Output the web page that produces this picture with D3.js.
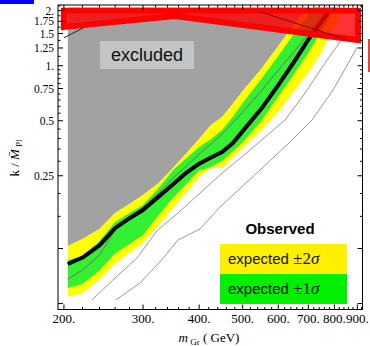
<!DOCTYPE html>
<html>
<head>
<meta charset="utf-8">
<script src="https://cdn.jsdelivr.net/npm/d3@7"></script>
<style>
  html, body { margin: 0; padding: 0; background: #fff; }
  svg { display: block; }
</style>
</head>
<body>
<div id="chart"></div>
<script>
// graviton mass grid (GeV) for the expected bands
const massGrid = [204, 220, 240, 260, 280, 300, 325, 350, 375, 400, 425, 450, 475, 500, 550, 600, 650, 700, 750, 800, 850, 900];
// expected limit bands on k/Mpl (values above the frame are hidden by the clip)
const exp2Up   = [0.1032, 0.1127, 0.1279, 0.1564, 0.1752, 0.1962, 0.2283, 0.2757, 0.3330, 0.3973, 0.4739, 0.5241, 0.6173, 0.7272, 0.9593, 1.2816, 1.6696, 2.121, 2.7, 3.0, 3.0, 3.0];
const exp1Up   = [0.0865, 0.0910, 0.1099, 0.1397, 0.1564, 0.1730, 0.2143, 0.2689, 0.3127, 0.3592, 0.3973, 0.4450, 0.5241, 0.6251, 0.8458, 1.1300, 1.4906, 1.8937, 2.4056, 3.0, 3.0, 3.0];
const exp1Down = [0.0608, 0.0640, 0.0755, 0.0939, 0.1060, 0.1186, 0.1520, 0.1894, 0.2260, 0.2662, 0.2792, 0.3011, 0.3398, 0.3806, 0.4983, 0.6759, 0.8940, 1.1764, 1.5579, 2.0295, 2.5945, 3.0];
const exp2Down = [0.0543, 0.0571, 0.0676, 0.0829, 0.0947, 0.1072, 0.1345, 0.1660, 0.2036, 0.2462, 0.2757, 0.2757, 0.3135, 0.3538, 0.4433, 0.5589, 0.7226, 0.9168, 1.1868, 1.6487, 2.1478, 2.7632];
const expMedian = [0.0681, 0.0763, 0.0922, 0.1263, 0.1488, 0.1687, 0.2012, 0.2431, 0.2828, 0.3289, 0.3730, 0.4231, 0.4859, 0.5582, 0.7272, 0.9473, 1.1883, 1.4906, 1.8467, 2.2875];

// observed limit
const obsMass  = [204, 220, 240, 260, 280, 300, 325, 350, 375, 400, 425, 450, 475, 500, 550, 600, 650, 700, 750, 780];
const obsLimit = [0.0823, 0.0893, 0.1040, 0.1293, 0.1465, 0.1625, 0.1923, 0.2245, 0.2602, 0.2911, 0.3147, 0.3373, 0.3763, 0.4388, 0.5811, 0.7832, 1.0464, 1.3892, 1.7515, 1.9965];

// two thin grey reference curves
const curveAMass = [230.9, 257.1, 290.8, 323.3, 358.8, 445.1, 519.1, 621.1, 688.3, 770.5, 845.1];
const curveAK    = [0.0523, 0.0673, 0.0887, 0.1263, 0.1564, 0.2525, 0.3459, 0.5046, 0.7091, 1.0744, 1.472];
const curveBMass = [261.1, 295.3, 327.2, 358.8, 401.7, 445.1, 546.4, 637.3, 713.4, 794.6, 866.9, 898.5];
const curveBK    = [0.0523, 0.0648, 0.0844, 0.1113, 0.1279, 0.1687, 0.2689, 0.3825, 0.5046, 0.7364, 1.0744, 1.2655];

// red excluded band at the top
const redMass   = [200, 353, 903];
const redTop    = [2.004, 2.004, 2.004];
const redBottom = [1.628, 1.870, 1.382];
const redDiagMass = [541, 858];
const redDiagK    = [1.99, 1.38];
const edgeMass = [200, 226];
const edgeK    = [1.42, 1.66];

// ticks
const xMajor = [200, 300, 400, 500, 600, 700, 800, 900];
const xLabels = ['200.', '300.', '400.', '500.', '600.', '700.', '800.', '900.'];
const yMajor = [0.25, 0.5, 0.75, 1, 1.25, 1.5, 1.75, 2];
const yLabels = ['0.25', '0.5', '0.75', '1.', '1.25', '1.5', '1.75', '2.'];
const yExtra = [0.05, 0.1];

const W = 370, H = 346;
const plot = { left: 58, right: 362.5, top: 5, bottom: 309.5 };
const dataTop = 7.5; // nothing is drawn in the thin strip under the top frame

const x = d3.scaleLog().domain([194, 924]).range([plot.left, plot.right]);
const y = d3.scaleLog().domain([0.0464, 2.148]).range([plot.bottom, plot.top]);

const svg = d3.select('#chart').append('svg')
  .attr('width', W)
  .attr('height', H);

svg.append('defs').append('clipPath')
  .attr('id', 'plotClip')
  .append('rect')
  .attr('x', plot.left).attr('y', dataTop)
  .attr('width', plot.right - plot.left)
  .attr('height', plot.bottom - dataTop);

// small blue mark top-left
svg.append('rect').attr('x', 0).attr('y', 0).attr('width', 34).attr('height', 4).attr('fill', '#0000ff');

const g = svg.append('g').attr('clip-path', 'url(#plotClip)');
const idx = d3.range(massGrid.length);

// grey excluded region above the +2 sigma edge
g.append('path')
  .attr('d', d3.area()
    .x(i => x(massGrid[i]))
    .y0(i => y(exp2Up[i]))
    .y1(plot.top - 20)(idx))
  .attr('fill', '#a2a2a2');

const band = (upper, lower) => d3.area()
  .x(i => x(massGrid[i]))
  .y0(i => y(lower[i]))
  .y1(i => y(upper[i]))(idx);

g.append('path').attr('d', band(exp2Up, exp2Down)).attr('fill', '#ffff00');
g.append('path').attr('d', band(exp1Up, exp1Down)).attr('fill', '#33f033');

const line = d3.line().x(d => x(d[0])).y(d => y(d[1]));

g.append('path')
  .attr('d', line(expMedian.map((v, i) => [massGrid[i], v])))
  .attr('fill', 'none').attr('stroke', '#707070').attr('stroke-width', 1);

g.append('path')
  .attr('d', line(curveAMass.map((m, i) => [m, curveAK[i]])))
  .attr('fill', 'none').attr('stroke', '#9a9a9a').attr('stroke-width', 1);
g.append('path')
  .attr('d', line(curveBMass.map((m, i) => [m, curveBK[i]])))
  .attr('fill', 'none').attr('stroke', '#9a9a9a').attr('stroke-width', 1);

g.append('path')
  .attr('d', line(obsMass.map((m, i) => [m, obsLimit[i]])))
  .attr('fill', 'none').attr('stroke', '#000').attr('stroke-width', 4)
  .attr('stroke-linejoin', 'round');

g.append('path')
  .attr('d', line(edgeMass.map((m, i) => [m, edgeK[i]])))
  .attr('fill', 'none').attr('stroke', '#222').attr('stroke-width', 1);

// red band
const redPts = redMass.map((m, i) => [m, redTop[i]])
  .concat(redMass.map((m, i) => [m, redBottom[i]]).reverse());
g.append('path')
  .attr('d', line(redPts) + 'Z')
  .attr('fill', '#ff0000').attr('fill-opacity', 0.8)
  .attr('stroke', '#ff0000').attr('stroke-width', 6)
  .attr('stroke-linejoin', 'miter');
g.append('path')
  .attr('d', line(redDiagMass.map((m, i) => [m, redDiagK[i]])))
  .attr('fill', 'none').attr('stroke', '#8b0000').attr('stroke-width', 1);

// red stub right of the frame
svg.append('line').attr('x1', 369).attr('x2', 369).attr('y1', 39).attr('y2', 72)
  .attr('stroke', '#e00000').attr('stroke-width', 1.5);

// "excluded" label
svg.append('rect').attr('x', 100).attr('y', 41).attr('width', 94).attr('height', 28).attr('fill', '#c4c4c4');
svg.append('text').attr('x', 147).attr('y', 61)
  .attr('text-anchor', 'middle')
  .attr('font-family', 'Liberation Sans, Arial, sans-serif')
  .attr('font-size', 18).attr('fill', '#111')
  .text('excluded');

// legend
const legend = svg.append('g').attr('font-family', 'Liberation Sans, Arial, sans-serif');
legend.append('text').attr('x', 280).attr('y', 234)
  .attr('text-anchor', 'middle').attr('font-weight', 'bold').attr('font-size', 15)
  .text('Observed');
legend.append('rect').attr('x', 220).attr('y', 244).attr('width', 127).attr('height', 30).attr('fill', '#fff000');
legend.append('rect').attr('x', 220).attr('y', 274).attr('width', 127).attr('height', 30).attr('fill', '#00f000');
[['2', 264], ['1', 294]].forEach(([s, by]) => {
  const t = legend.append('text').attr('x', 228).attr('y', by).attr('font-size', 15).attr('fill', '#111');
  t.append('tspan').text('expected ');
  t.append('tspan').attr('font-family', 'Liberation Serif, serif').attr('font-size', 17).text('\u00b1' + s);
  t.append('tspan').attr('font-family', 'Liberation Serif, serif').attr('font-style', 'italic').attr('font-size', 17).text('\u03c3');
});

// frame
svg.append('rect')
  .attr('x', plot.left).attr('y', plot.top)
  .attr('width', plot.right - plot.left).attr('height', plot.bottom - plot.top)
  .attr('fill', 'none').attr('stroke', '#000').attr('stroke-width', 1);

// ticks
const xMinor = d3.range(220, 921, 20).filter(v => !xMajor.includes(v));
const yMinor = d3.range(0.05, 1.0, 0.05).map(v => +v.toFixed(2))
  .filter(v => !yMajor.includes(v) && !yExtra.includes(v))
  .concat([1.125, 1.375, 1.625, 1.875, 2.125]);

const ticks = svg.append('g').attr('stroke', '#000').attr('stroke-width', 1);
const xt = (vals, len) => vals.forEach(v => {
  const px = x(v);
  ticks.append('line').attr('x1', px).attr('x2', px).attr('y1', plot.bottom).attr('y2', plot.bottom - len);
  ticks.append('line').attr('x1', px).attr('x2', px).attr('y1', plot.top).attr('y2', plot.top + len);
});
const yt = (vals, len) => vals.forEach(v => {
  const py = y(v);
  ticks.append('line').attr('x1', plot.left).attr('x2', plot.left + len).attr('y1', py).attr('y2', py);
  ticks.append('line').attr('x1', plot.right).attr('x2', plot.right - len).attr('y1', py).attr('y2', py);
});
xt(xMajor, 5); xt(xMinor, 2.5);
yt(yMajor.concat(yExtra), 5); yt(yMinor, 2.5);

const labelFont = 'Liberation Serif, Times New Roman, serif';
svg.append('g').selectAll('text').data(xMajor).enter().append('text')
  .attr('x', d => x(d)).attr('y', 323)
  .attr('text-anchor', 'middle')
  .attr('font-family', labelFont).attr('font-size', 13)
  .text((d, i) => xLabels[i]);

svg.append('g').selectAll('text').data(yMajor).enter().append('text')
  .attr('x', 54).attr('y', d => y(d)).attr('dy', '0.35em')
  .attr('text-anchor', 'end')
  .attr('font-family', labelFont).attr('font-size', 11.5)
  .text((d, i) => yLabels[i]);

// axis titles
const xTitle = svg.append('text').attr('x', 209).attr('y', 342)
  .attr('text-anchor', 'middle').attr('font-family', labelFont).attr('font-size', 13);
xTitle.append('tspan').attr('font-style', 'italic').text('m');
xTitle.append('tspan').attr('font-size', 9).attr('dy', 3).text(' Gr');
xTitle.append('tspan').attr('dy', -3).text(' ( GeV)');

const yTitle = svg.append('text')
  .attr('transform', 'translate(19,158) rotate(-90)')
  .attr('text-anchor', 'middle').attr('font-family', labelFont).attr('font-size', 13);
yTitle.append('tspan').text('k / ');
yTitle.append('tspan').attr('font-style', 'italic').text('M\u0304');
yTitle.append('tspan').attr('font-size', 9).attr('dy', 3).text(' Pl');
</script>
</body>
</html>
